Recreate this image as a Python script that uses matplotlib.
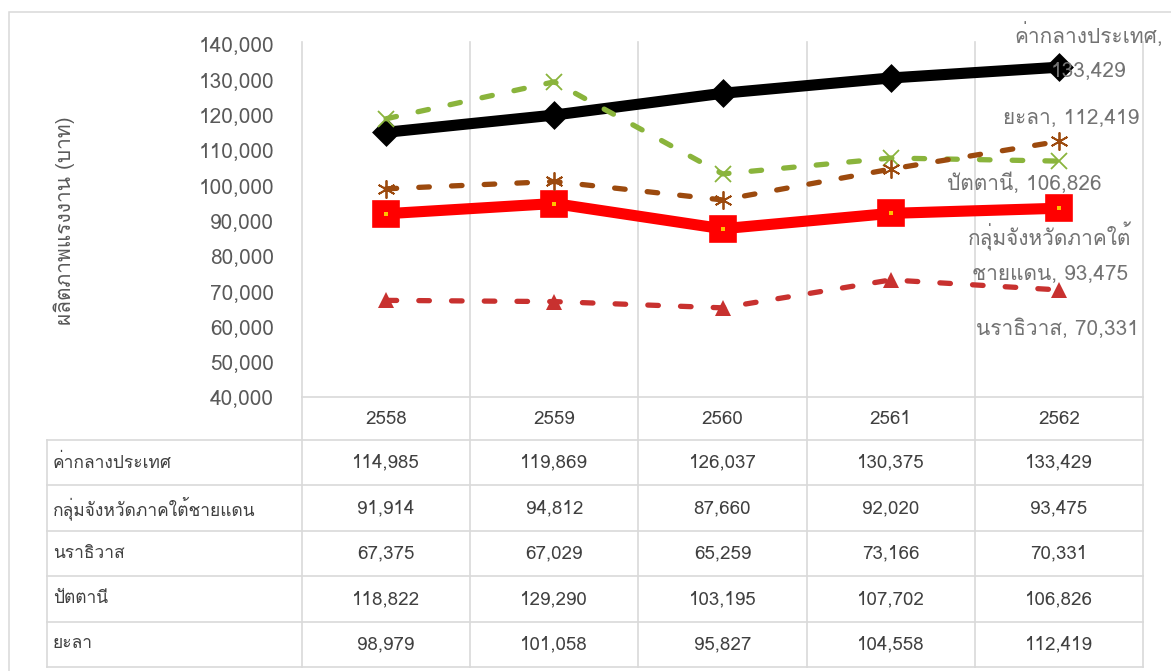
import numpy as np
import matplotlib
matplotlib.use('Agg')
import matplotlib.pyplot as plt
import matplotlib.transforms as mtransforms
from matplotlib.patches import Rectangle

plt.rcParams['font.family'] = ['Loma', 'DejaVu Sans']

years = ['2558', '2559', '2560', '2561', '2562']
names = ['ค่ากลางประเทศ', 'กลุ่มจังหวัดภาคใต้ชายแดน', 'นราธิวาส', 'ปัตตานี', 'ยะลา']
national = [114985, 119869, 126037, 130375, 133429]
border = [91914, 94812, 87660, 92020, 93475]
narathiwat = [67375, 67029, 65259, 73166, 70331]
pattani = [118822, 129290, 103195, 107702, 106826]
yala = [98979, 101058, 95827, 104558, 112419]
yticks = np.arange(40000, 140001, 10000)
ylabel = 'ผลิตภาพแรงงาน (บาท)'
label_names = ['ค่ากลางประเทศ,\n', 'กลุ่มจังหวัดภาคใต้\nชายแดน, ', 'นราธิวาส, ', 'ปัตตานี, ', 'ยะลา, ']

W, H = 1171, 671
GRID = '#d9d9d9'
TICK = '#595959'
TEXT = '#404040'

fig = plt.figure(figsize=(W / 100, H / 100), dpi=100)
ax = fig.add_axes([302 / W, 1 - 397 / H, 841 / W, 353 / H])
x = np.arange(len(years))

# outer chart border
fig.patches.append(Rectangle((9 / W, -0.02), 1.0, (H - 12) / H + 0.02, transform=fig.transFigure,
                             fill=False, ec=GRID, lw=1.1))

# series
ax.plot(x, national, color='black', lw=8, marker='D', ms=12.5, mew=2.5,
        solid_joinstyle='round', solid_capstyle='round', zorder=3)
ax.plot(x, border, color='#ff0000', lw=8, marker='s', ms=14.5, mew=5.5, mec='#ff0000',
        solid_joinstyle='round', solid_capstyle='round', zorder=3)
ax.plot(x, border, ls='none', marker='s', ms=2.2, mew=0, color='#ffc000', zorder=4)
dash = (0, (2.0, 4.2))
ax.plot(x, narathiwat, color='#c8312f', lw=3.8, ls=dash, dash_capstyle='round',
        marker='^', ms=12, mew=0, zorder=5)
ax.plot(x, pattani, color='#8ab43c', lw=3.8, ls=dash, dash_capstyle='round',
        marker='x', ms=12, mew=1.3, zorder=5)
ax.plot(x, yala, color='#9c4a0e', lw=3.8, ls=dash, dash_capstyle='round',
        marker=(6, 2, 0), ms=13, mew=1.3, zorder=6)

# end-of-line labels
all_series = [national, border, narathiwat, pattani, yala]
offsets = [(30, 16), (-9, -44), (-1, -39), (-35, -22), (12, 24)]
for ln, s, off in zip(label_names, all_series, offsets):
    ax.annotate(ln + f'{s[-1]:,}', xy=(x[-1], s[-1]), xytext=off, textcoords='offset pixels',
                ha='center', va='center', fontsize=15, color='#737373', linespacing=1.9, zorder=7)

ax.set_xlim(-0.5, 4.5)
ax.set_ylim(40000, 140000)
ax.set_yticks(yticks)
ax.set_yticklabels([f'{v:,}' for v in yticks])
ax.set_xticks([])
ax.tick_params(axis='y', length=0, pad=20, labelsize=15, labelcolor=TICK)
for side in ['top', 'right', 'bottom', 'left']:
    ax.spines[side].set_visible(False)
ax.set_ylabel(ylabel, fontsize=15, color=TICK)
ax.yaxis.set_label_coords(-0.27, 0.5)

# data table under the plot
trans = mtransforms.blended_transform_factory(ax.transData, ax.transAxes)
ax_h = 353.0
col_px = 841 / 5
header_h = 43 / ax_h
row_h = 45.4 / ax_h
table_left = -0.5 - 255 / col_px
table_bottom = -header_h - len(names) * row_h
top = 1 + 2 / ax_h

for b in np.arange(-0.5, len(years), 1.0):
    ax.plot([b, b], [top, table_bottom], transform=trans, color=GRID, lw=1.2, clip_on=False, zorder=1)
ax.plot([-0.5, 4.5], [0, 0], transform=trans, color=GRID, lw=1.2, clip_on=False, zorder=1)
ax.plot([table_left, table_left], [-header_h, table_bottom], transform=trans, color=GRID, lw=1.2,
        clip_on=False)
for r in range(len(names) + 1):
    yy = -header_h - r * row_h
    ax.plot([table_left, 4.5], [yy, yy], transform=trans, color=GRID, lw=1.2, clip_on=False)

for i, yr in enumerate(years):
    ax.text(i, -header_h / 2, yr, transform=trans, ha='center', va='center', fontsize=13.5, color=TEXT)
for r, (name, s) in enumerate(zip(names, all_series)):
    yc = -header_h - (r + 0.5) * row_h
    ax.text(table_left + 6 / col_px, yc, name, transform=trans, ha='left', va='center',
            fontsize=12.5, color=TEXT)
    for i, v in enumerate(s):
        ax.text(i, yc, f'{v:,}', transform=trans, ha='center', va='center', fontsize=13.5, color=TEXT)

fig.savefig('out.png', dpi=100)
